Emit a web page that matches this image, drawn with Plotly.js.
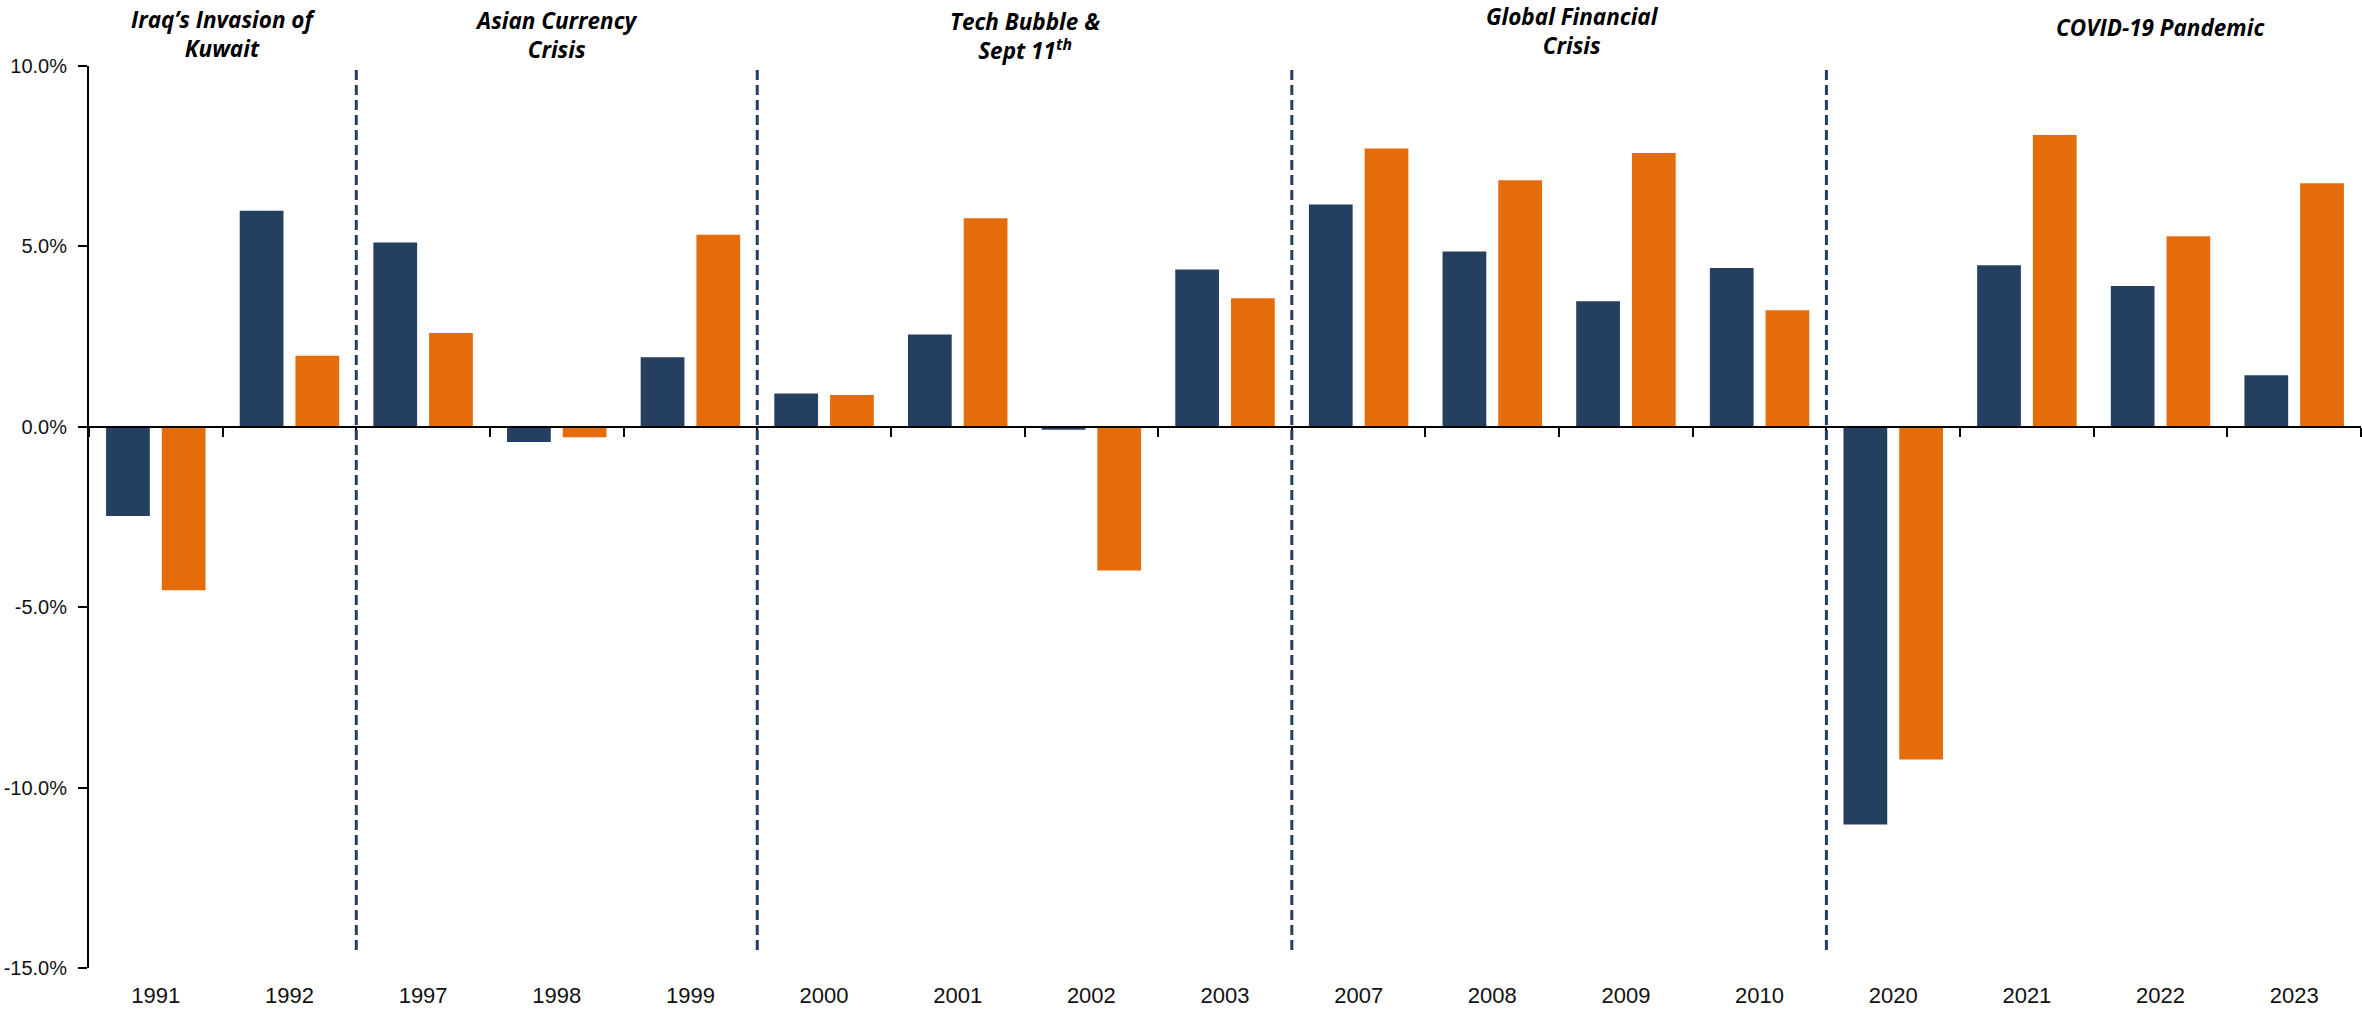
<!DOCTYPE html>
<html>
<head>
<meta charset="utf-8">
<script src="https://cdn.plot.ly/plotly-3.0.1.min.js"></script>
<style>
  html, body { margin: 0; padding: 0; background: #ffffff; }
  #chart { width: 2362px; height: 1013px; }
</style>
</head>
<body>
<div id="chart"></div>
<script>
// Calendar years shown on the category axis, in display order
const years = ['1991','1992','1997','1998','1999','2000','2001','2002','2003',
               '2007','2008','2009','2010','2020','2021','2022','2023'];

// Annual returns (%) for the two series
const seriesA = [-2.47, 5.99, 5.11, -0.42, 1.93, 0.92, 2.56, -0.08, 4.36,
                  6.16, 4.86, 3.48, 4.40, -11.02, 4.48, 3.90, 1.43];
const seriesB = [-4.53, 1.97, 2.60, -0.29, 5.32, 0.88, 5.78, -3.98, 3.56,
                  7.71, 6.83, 7.59, 3.23, -9.22, 8.09, 5.28, 6.75];

// Crisis periods: label and number of years in each
const eventNames = ['Iraq\u2019s Invasion of<br>Kuwait', 'Asian Currency<br>Crisis',
                    'Tech Bubble &<br>Sept 11<sup>th</sup>', 'Global Financial<br>Crisis',
                    'COVID-19 Pandemic'];
const eventSizes = [2, 3, 4, 4, 4];

// Y-axis ticks
const yTicks = [-15, -10, -5, 0, 5, 10];

const NAVY = '#243F60';
const ORANGE = '#E46C0A';

const traces = [
  { type: 'bar', name: 'Series 1', x: years, y: seriesA,
    marker: { color: NAVY }, hoverinfo: 'x+y' },
  { type: 'bar', name: 'Series 2', x: years, y: seriesB,
    marker: { color: ORANGE }, hoverinfo: 'x+y' },
  // carrier for the zero-line axis with boundary ticks
  { type: 'scatter', mode: 'markers', x: years, y: years.map(() => null),
    xaxis: 'x2', yaxis: 'y', showlegend: false, hoverinfo: 'skip',
    marker: { opacity: 0 } }
];

// Separator positions and label placement, derived from the period sizes
const shapes = [];
const annotations = [];
const labelOffset = [0, 0, 0, 0.1, 0.5];
const labelY = [1.036, 1.034, 1.033, 1.039, 1.043];
let start = 0;
eventSizes.forEach((n, i) => {
  const end = start + n;
  if (i > 0) {
    shapes.push({
      type: 'line', xref: 'x', yref: 'y',
      x0: start - 0.5, x1: start - 0.5, y0: -14.5, y1: 10.45,
      line: { color: NAVY, width: 3, dash: '10px,5px' }
    });
  }
  annotations.push({
    xref: 'x', yref: 'paper',
    x: (start + end - 1) / 2 + labelOffset[i], y: labelY[i],
    xanchor: 'center', yanchor: 'middle', showarrow: false,
    text: eventNames[i],
    font: { family: '"Open Sans", Lato, sans-serif', size: 22.5, weight: 700,
            style: 'italic', color: '#000000' }
  });
  start = end;
});

const layout = {
  width: 2362, height: 1013,
  margin: { l: 89, r: 1, t: 66, b: 45, pad: 0 },
  paper_bgcolor: '#ffffff', plot_bgcolor: '#ffffff',
  showlegend: false,
  barmode: 'group', bargap: 0.166, bargroupgap: 0.215,
  xaxis: {
    type: 'category', categoryorder: 'array', categoryarray: years,
    range: [-0.5, years.length - 0.5],
    showline: false, showgrid: false, zeroline: false, ticks: '',
    ticklabelstandoff: 12,
    tickfont: { family: '"Liberation Sans Narrow", "Liberation Sans", Arial, sans-serif',
                size: 22, color: '#111111' }
  },
  xaxis2: {
    type: 'category', categoryorder: 'array', categoryarray: years,
    range: [-0.5, years.length - 0.5],
    overlaying: 'x', anchor: 'free', position: 0.6,
    showline: true, linecolor: '#000000', linewidth: 2,
    ticks: 'outside', tickson: 'boundaries', ticklen: 9, tickwidth: 2,
    tickcolor: '#000000', showticklabels: false, showgrid: false, zeroline: false
  },
  yaxis: {
    range: [-15, 10], tickvals: yTicks,
    ticktext: yTicks.map(v => v.toFixed(1) + '%'),
    showline: true, linecolor: '#000000', linewidth: 2,
    ticks: 'outside', ticklen: 9, tickwidth: 2, tickcolor: '#000000',
    showgrid: false, zeroline: false, ticklabelstandoff: 7,
    tickfont: { family: '"Liberation Sans", Arial, sans-serif', size: 20, color: '#111111' }
  },
  shapes: shapes,
  annotations: annotations
};

Plotly.newPlot('chart', traces, layout, { staticPlot: true });
</script>
</body>
</html>
